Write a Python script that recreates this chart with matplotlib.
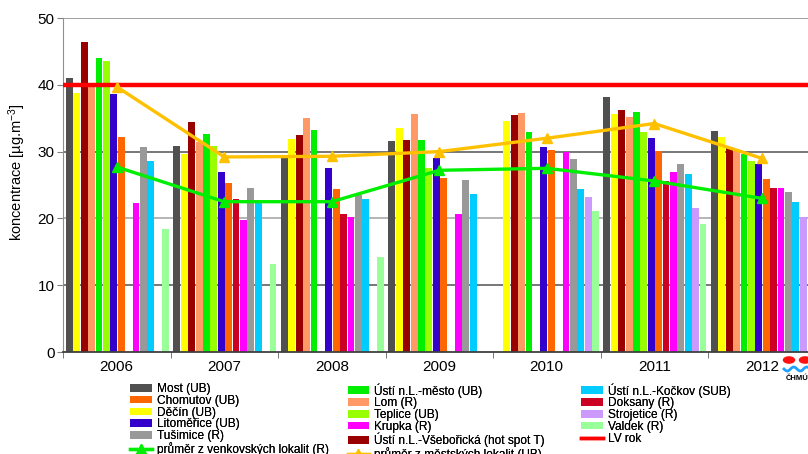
import numpy as np
import matplotlib
matplotlib.use("Agg")
import matplotlib.pyplot as plt
from matplotlib.lines import Line2D
from matplotlib.patches import Circle

plt.rcParams['font.family'] = ['Liberation Sans', 'DejaVu Sans']
plt.rcParams['mathtext.fontset'] = 'custom'
plt.rcParams['mathtext.rm'] = 'Liberation Sans'
plt.rcParams['mathtext.it'] = 'Liberation Sans'

years = ['2006', '2007', '2008', '2009', '2010', '2011', '2012']
nan = np.nan

most        = [41.0, 30.8, 29.1, 31.6, nan, 38.1, 33.1]
decin       = [38.7, 29.6, 31.9, 33.5, 34.6, 35.6, 32.2]
vseboricka  = [46.4, 34.4, 32.5, 31.8, 35.5, 36.3, 30.7]
lom         = [40.2, 31.5, 35.1, 35.6, 35.8, 35.2, 30.1]
usti_mesto  = [44.0, 32.6, 33.3, 31.7, 33.0, 36.0, 29.7]
teplice     = [43.6, 30.8, nan, 27.5, nan, 33.0, 28.6]
litomerice  = [38.6, 27.0, 27.6, 29.0, 30.7, 32.0, 28.2]
chomutov    = [32.2, 25.3, 24.4, 26.0, 30.2, 30.1, 25.9]
doksany     = [nan, 22.9, 20.6, nan, nan, 25.6, 24.6]
krupka      = [22.3, 19.7, 20.2, 20.7, 30.0, 26.9, 24.6]
tusimice    = [30.7, 24.5, 23.5, 25.8, 28.9, 28.2, 23.9]
kockov      = [28.6, 22.3, 22.9, 23.6, 24.4, 26.7, 22.5]
strojetice  = [nan, nan, nan, nan, 23.2, 21.5, 20.2]
valdek      = [18.4, 13.2, 14.2, nan, 21.1, 19.2, nan]

rural_avg = [27.7, 22.5, 22.5, 27.2, 27.5, 25.6, 23.0]
urban_avg = [39.7, 29.2, 29.3, 30.0, 32.0, 34.2, 29.0]
lv_rok = 40

# bar order within a group
series = [
    ('Most (UB)', most, '#505050'),
    ('Děčín (UB)', decin, '#ffff00'),
    ('Ústí n.L.-Všebořická (hot spot T)', vseboricka, '#990000'),
    ('Lom (R)', lom, '#ff9966'),
    ('Ústí n.L.-město (UB)', usti_mesto, '#00ee00'),
    ('Teplice (UB)', teplice, '#99ff00'),
    ('Litoměřice (UB)', litomerice, '#3300cc'),
    ('Chomutov (UB)', chomutov, '#ff6600'),
    ('Doksany (R)', doksany, '#cc0022'),
    ('Krupka (R)', krupka, '#ff00ff'),
    ('Tušimice (R)', tusimice, '#999999'),
    ('Ústí n.L.-Kočkov (SUB)', kockov, '#00ccff'),
    ('Strojetice (R)', strojetice, '#cc99ff'),
    ('Valdek (R)', valdek, '#99ff99'),
]

W, H = 808, 454
fig = plt.figure(figsize=(W / 100, H / 100), dpi=100)
ax_left, ax_right, ax_bottom, ax_top = 63, 815.5, 352, 18
ax = fig.add_axes([ax_left / W, 1 - ax_bottom / H, (ax_right - ax_left) / W, (ax_bottom - ax_top) / H])

n = len(years)
x0 = np.arange(n)
slot = 0.0688
offset0 = 0.025
handles = {}
for i, (name, vals, col) in enumerate(series):
    xs = x0 + offset0 + slot * (i + 0.5)
    b = ax.bar(xs, vals, width=slot * 0.93, color=col, linewidth=0, zorder=3, label=name)
    handles[name] = b

ax.axhline(lv_rok, color='#ff0000', lw=3.2, zorder=5)
handles['LV rok'] = Line2D([], [], color='#ff0000', lw=2.5)

xc = x0 + 0.5
ax.plot(xc, rural_avg, color='#00ee00', lw=2.4, marker='^', ms=7, zorder=6)
ax.plot(xc, urban_avg, color='#ffc000', lw=2.4, marker='^', ms=7, zorder=6)
handles['průměr z venkovských lokalit (R)'] = Line2D([], [], color='#00ee00', lw=2.4, marker='^', ms=7)
handles['průměr z městských lokalit (UB)'] = Line2D([], [], color='#ffc000', lw=2.4, marker='^', ms=7)

ax.set_xlim(0, n)
ax.set_ylim(0, 50)
ax.set_yticks([0, 10, 20, 30, 40, 50])
ax.set_xticks(xc)
ax.set_xticklabels(years, fontsize=11)
ax.set_xticks(np.arange(n + 1), minor=True)
ax.tick_params(axis='x', which='major', length=0, pad=6)
ax.tick_params(axis='x', which='minor', length=4, direction='out', color='#606060')
ax.tick_params(axis='y', length=4, direction='out', color='#808080', labelsize=11, pad=2)

grid_cols = {10: '#606060', 20: '#a8a8a8', 30: '#606060', 40: '#a8a8a8', 50: '#909090'}
for v, c in grid_cols.items():
    ax.axhline(v, color=c, lw=1.2, zorder=1)

for s in ['top', 'right']:
    ax.spines[s].set_visible(False)
ax.spines['left'].set_color('#909090')
ax.spines['bottom'].set_color('#404040')
ax.spines['bottom'].set_linewidth(1.3)
ax.spines['bottom'].set_zorder(7)

ax.set_ylabel('koncentrace [µg.m$^{-3}$]', fontsize=10.5)
ax.yaxis.set_label_coords(-0.046, 0.54)

cols = [
    ['Most (UB)', 'Chomutov (UB)', 'Děčín (UB)', 'Litoměřice (UB)', 'Tušimice (R)',
     'průměr z venkovských lokalit (R)'],
    ['Ústí n.L.-město (UB)', 'Lom (R)', 'Teplice (UB)', 'Krupka (R)',
     'Ústí n.L.-Všebořická (hot spot T)', 'průměr z městských lokalit (UB)'],
    ['Ústí n.L.-Kočkov (SUB)', 'Doksany (R)', 'Strojetice (R)', 'Valdek (R)', 'LV rok'],
]
col_x = [130, 347.5, 581]
for cx, labs in zip(col_x, cols):
    lg = fig.legend([handles[l] for l in labs], labs, loc='upper left',
                    bbox_to_anchor=(cx / W, 1 - 383 / H), frameon=False,
                    fontsize=8.6, borderpad=0, borderaxespad=0, handlelength=1.8,
                    handleheight=0.6, handletextpad=0.45, labelspacing=-0.02,
                    numpoints=1)
    fig.add_artist(lg)

# ČHMÚ logo (approximate)
def fx(px):
    return px / W
def fy(py):
    return 1 - py / H
for cxp in (789, 805):
    fig.add_artist(Circle((fx(cxp), fy(360)), 5.5 / W, transform=fig.transFigure,
                          color='#ff1010', zorder=10))
wx = np.linspace(784, 810, 40)
wy = 369 + 2.0 * np.sin((wx - 784) / 26 * 4 * np.pi)
fig.add_artist(Line2D(fx(wx), fy(wy), transform=fig.transFigure, color='#20a0ff', lw=2))
fig.text(fx(797), fy(378), 'ČHMÚ', fontsize=5.5, fontweight='bold', ha='center', va='center')

fig.savefig('out.png', dpi=100)
